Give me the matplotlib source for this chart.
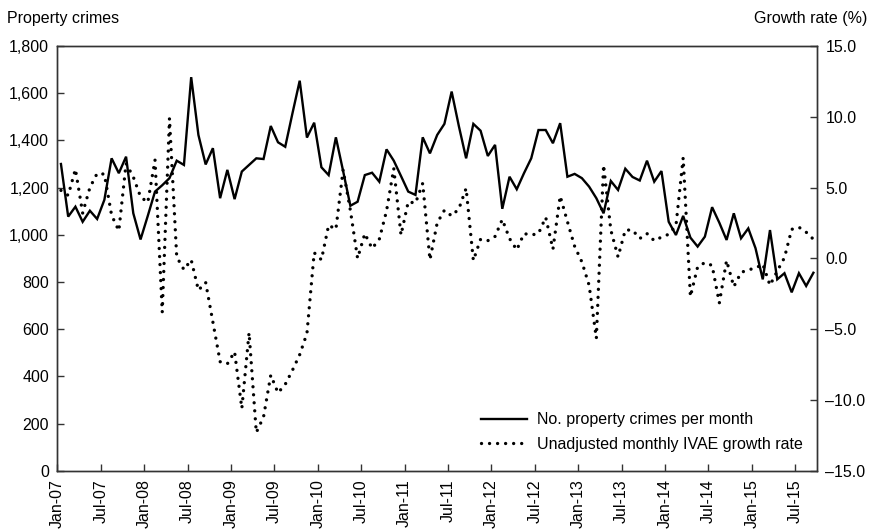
import numpy as np
import matplotlib
matplotlib.use("Agg")
import matplotlib.pyplot as plt
from matplotlib.ticker import FuncFormatter, MultipleLocator

plt.rcParams['font.family'] = ['Liberation Sans', 'DejaVu Sans']
plt.rcParams['font.size'] = 11

# --- Data (monthly, Jan-07 .. Sep-15) ---
crimes = [1300, 1077, 1119, 1055, 1102, 1067, 1148, 1324, 1261, 1331, 1091, 980,
          1080, 1183, 1210, 1240, 1314, 1296, 1668, 1423, 1298, 1367, 1155, 1275,
          1151, 1268, 1296, 1324, 1321, 1461, 1392, 1373, 1515, 1653, 1412, 1475,
          1286, 1253, 1413, 1270, 1123, 1140, 1253, 1263, 1225, 1362, 1314, 1249,
          1183, 1169, 1413, 1345, 1423, 1470, 1607, 1460, 1324, 1470, 1441, 1334,
          1381, 1110, 1246, 1193, 1261, 1324, 1444, 1444, 1388, 1473, 1246, 1258,
          1240, 1204, 1155, 1091, 1228, 1190, 1280, 1245, 1230, 1314, 1225, 1270,
          1055, 999, 1080, 988, 950, 992, 1117, 1051, 978, 1091, 985, 1027,
          943, 811, 1020, 811, 837, 756, 837, 783, 839]

ivae_growth = [4.8, 4.45, 6.3, 3.2, 5.0, 6.0, 5.95, 3.05, 1.95, 6.7, 5.75, 4.35,
               3.95, 6.95, -3.8, 9.9, 0.1, -0.8, -0.1, -2.25, -1.7, -4.5, -7.3, -7.45,
               -6.6, -10.6, -5.25, -12.3, -11.2, -8.25, -9.5, -8.9, -7.9, -6.8, -5.3, 0.4,
               -0.1, 2.35, 2.05, 6.25, 3.4, 0.0, 1.75, 0.7, 1.35, 3.35, 6.35, 1.65,
               4.0, 3.9, 5.3, -0.1, 2.5, 3.4, 3.0, 3.5, 4.95, -0.15, 1.35, 1.25,
               1.55, 2.75, 1.4, 0.6, 1.75, 1.65, 1.75, 2.9, 0.65, 4.4, 2.6, 0.85,
               -0.25, -1.9, -5.65, 6.6, 2.0, 0.1, 2.0, 2.0, 1.4, 1.75, 1.25, 1.5,
               1.7, 2.3, 7.1, -2.7, -0.6, -0.3, -0.5, -3.15, -0.15, -2.0, -1.0, -0.8,
               -0.7, -0.4, -1.9, -0.9, 0.05, 2.05, 2.2, 1.85, 1.35]

tick_labels = ["Jan-07", "Jul-07", "Jan-08", "Jul-08", "Jan-09", "Jul-09",
               "Jan-10", "Jul-10", "Jan-11", "Jul-11", "Jan-12", "Jul-12",
               "Jan-13", "Jul-13", "Jan-14", "Jul-14", "Jan-15", "Jul-15"]

n = len(crimes)
x = np.arange(n)
dark = "#333333"

fig = plt.figure(figsize=(8.74, 5.32), dpi=100)
ax = fig.add_axes([0.0656, 0.1152, 0.8692, 0.7983])
ax2 = ax.twinx()

l1, = ax.plot(x, crimes, color="black", lw=1.7, solid_joinstyle="miter",
              label="No. property crimes per month")
l2, = ax2.plot(x, ivae_growth, color="black", lw=2.4,
               linestyle=(0, (0.01, 2.4)), dash_capstyle="round",
               label="Unadjusted monthly IVAE growth rate")

ax.set_xlim(-0.5, n - 0.5)
ax.set_ylim(0, 1800)
ax2.set_ylim(-15, 15)
ax.yaxis.set_major_locator(MultipleLocator(200))
ax2.yaxis.set_major_locator(MultipleLocator(5))
ax.yaxis.set_major_formatter(FuncFormatter(lambda v, p: f"{int(v):,}"))
ax2.yaxis.set_major_formatter(
    FuncFormatter(lambda v, p: f"{v:.1f}".replace("-", "\u2013")))

ax.set_xticks(np.arange(0, n, 6) - 0.5)
ax.set_xticklabels(tick_labels, rotation=90)

for a in (ax, ax2):
    a.tick_params(direction="in", length=5, width=1, color=dark, labelsize=11.5,
                  labelcolor="black")
    for s in a.spines.values():
        s.set_color(dark)
        s.set_linewidth(1)
ax.tick_params(axis="x", pad=6)
ax.tick_params(axis="y", pad=6)
ax2.tick_params(axis="y", pad=6)

fig.text(0.008, 0.966, "Property crimes", ha="left", va="center", fontsize=11.5)
fig.text(0.992, 0.966, "Growth rate (%)", ha="right", va="center", fontsize=11.5)

ax2.legend(handles=[l1, l2], loc="lower right", bbox_to_anchor=(0.981, 0.044),
           frameon=False, fontsize=11.5, handlelength=2.9, handletextpad=0.6,
           labelspacing=0.6, borderpad=0, borderaxespad=0)

fig.savefig("out.png", dpi=100)
